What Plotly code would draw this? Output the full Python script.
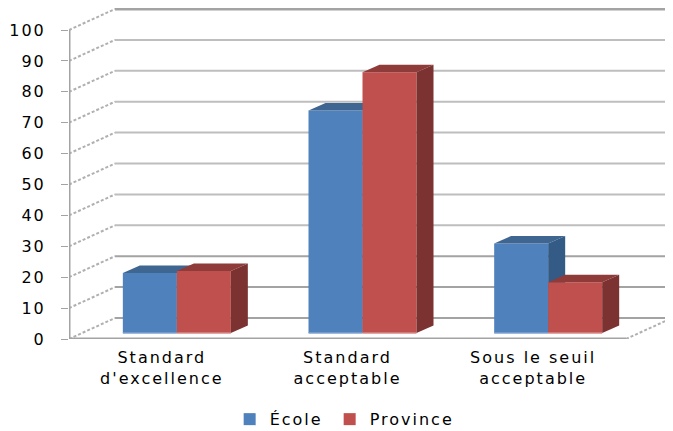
import plotly.graph_objects as go

categories = ["Standard<br>d'excellence", "Standard<br>acceptable", "Sous le seuil<br>acceptable"]
ecole = [19.4, 72, 29]
province = [20.1, 84.4, 16.4]
y_ticks = [0, 10, 20, 30, 40, 50, 60, 70, 80, 90, 100]

PAGE = 8  # the page's own margin
W, H = 673 - PAGE, 431 - PAGE
L, B = 69 - PAGE, 339 - PAGE
PX_CAT = 185.67
PX_VAL = 3.09
px = lambda p: p / PX_CAT
pv = lambda p: p / PX_VAL
xr = [-0.5, -0.5 + px(W - L)]
yr = [0, pv(B)]
x_idx = [0, 1, 2]

WALL_DX, WALL_DY = px(46), pv(21)
BAR_W = px(54)
BAR_OFF = -0.21
BASE = pv(6)
DX, DY = px(17), pv(7.5)
FRONT_END = 2.5
GRID = "#BEBEBE"
GRID_DK = "#A3A3A3"
AXIS = "#A3A3A3"
FONT = "DejaVu Sans"

fig = go.Figure()

def bar_set(vals, name, shift, front, side, top, foot, xa, ya):
    fig.add_trace(go.Bar(x=x_idx, y=vals, base=BASE, width=BAR_W, offset=BAR_OFF + shift, name=name,
                         marker=dict(color=front, line=dict(width=0)), xaxis=xa, yaxis=ya))
    for i, v in zip(x_idx, vals):
        x0 = i + BAR_OFF + shift
        x1 = x0 + BAR_W
        t = BASE + v
        fig.add_trace(go.Scatter(x=[x0, x0 + DX, x1 + DX, x1, x0], y=[t, t + DY, t + DY, t, t], mode="lines",
                                 fill="toself", fillcolor=top, line=dict(width=0), showlegend=False,
                                 hoverinfo="skip", xaxis=xa, yaxis=ya))
        fig.add_trace(go.Scatter(x=[x1, x1 + DX, x1 + DX, x1, x1], y=[BASE, BASE + DY, t + DY, t, BASE], mode="lines",
                                 fill="toself", fillcolor=side, line=dict(width=0), showlegend=False,
                                 hoverinfo="skip", xaxis=xa, yaxis=ya))
        fig.add_trace(go.Scatter(x=[x0, x1], y=[BASE, BASE], mode="lines", line=dict(color=foot, width=1.5),
                                 showlegend=False, hoverinfo="skip", xaxis=xa, yaxis=ya))

bar_set(ecole, "École", 0, "#4F81BD", "#345A86", "#3F6591", "#7FA3CF", "x", "y")
bar_set(province, "Province", BAR_W, "#C0504D", "#7B3230", "#8E3B39", "#D48A88", "x2", "y2")

shapes = []
for v in y_ticks:
    heavy = v in (0, 10, 20, 100)
    shapes.append(dict(type="line", xref="x", yref="y", layer="below",
                       x0=xr[0] + WALL_DX, x1=xr[1], y0=v + WALL_DY, y1=v + WALL_DY,
                       line=dict(color=GRID_DK if heavy else GRID, width=3 if v == 100 else 2)))
    shapes.append(dict(type="line", xref="x", yref="y", layer="below",
                       x0=xr[0], x1=xr[0] + WALL_DX, y0=v, y1=v + WALL_DY,
                       line=dict(color="#B0B0B0", width=2, dash="3px,2px")))
shapes.append(dict(type="line", xref="x", yref="y", layer="below",
                   x0=FRONT_END, x1=FRONT_END + WALL_DX, y0=0, y1=WALL_DY,
                   line=dict(color="#B0B0B0", width=2, dash="3px,2px")))
shapes.append(dict(type="line", xref="x", yref="y", layer="below",
                   x0=xr[0], x1=FRONT_END, y0=0, y1=0, line=dict(color=AXIS, width=3)))
shapes.append(dict(type="line", xref="x", yref="y", layer="below",
                   x0=xr[0], x1=xr[0], y0=pv(-2), y1=100, line=dict(color=AXIS, width=3)))
for b in [-0.5, 0.5, 1.5, 2.5]:
    shapes.append(dict(type="line", xref="x", yref="y", layer="below",
                       x0=b, x1=b, y0=0, y1=pv(-4), line=dict(color=AXIS, width=1)))

fig.update_layout(
    width=W, height=H, margin=dict(l=L, r=0, t=0, b=H - B), autosize=False,
    paper_bgcolor="white", plot_bgcolor="white", shapes=shapes,
    font=dict(family=FONT, size=16, color="#000000"),
    xaxis=dict(range=xr, tickvals=x_idx, ticktext=categories, ticks="", showgrid=False, zeroline=False,
               showline=False, tickangle=0, tickfont=dict(size=16), ticklabelstandoff=7),
    yaxis=dict(range=yr, tickvals=y_ticks, ticks="outside", ticklen=7, tickwidth=1, tickcolor=AXIS,
               showgrid=False, zeroline=False, showline=False, tickfont=dict(size=16), ticklabelstandoff=12),
    xaxis2=dict(range=xr, overlaying="x", visible=False),
    yaxis2=dict(range=yr, overlaying="y", visible=False),
    barmode="overlay",
    legend=dict(orientation="h", x=0.266, xanchor="left", y=0.068, yanchor="top", yref="container",
                font=dict(size=16), bgcolor="rgba(0,0,0,0)", itemwidth=30, entrywidth=55, entrywidthmode="pixels"),
)

SPREAD = """
document.querySelectorAll('.xtick text, .ytick text, .legendtext').forEach(function (t) {
  t.style.letterSpacing = '2px';
});
document.querySelectorAll('.legend .scrollbox').forEach(function (g) {
  g.removeAttribute('clip-path');
});
"""
fig.write_html("out.html", post_script=SPREAD, default_width=f"{W}px", default_height=f"{H}px")
